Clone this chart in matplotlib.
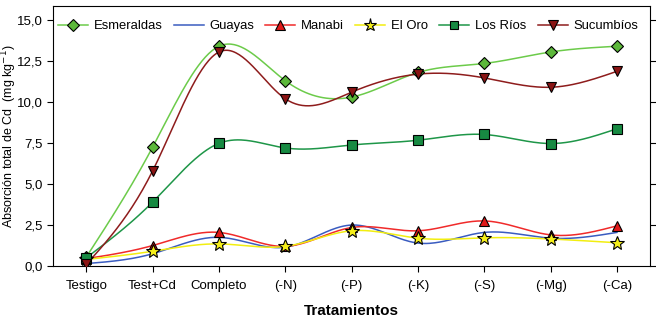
import matplotlib
matplotlib.use("Agg")
from matplotlib import pyplot as plt
from matplotlib.ticker import FuncFormatter
import numpy as np

plt.rcParams['font.family'] = ['Liberation Sans', 'DejaVu Sans']

tratamientos = ['Testigo', 'Test+Cd', 'Completo', '(-N)', '(-P)', '(-K)', '(-S)', '(-Mg)', '(-Ca)']

esmeraldas = [0.55, 7.25, 13.4, 11.3, 10.3, 11.8, 12.35, 13.05, 13.4]
guayas = [0.15, 0.75, 1.75, 1.15, 2.5, 1.4, 2.05, 1.7, 2.05]
manabi = [0.45, 1.25, 2.05, 1.2, 2.35, 2.15, 2.75, 1.9, 2.45]
el_oro = [0.4, 0.9, 1.35, 1.2, 2.15, 1.7, 1.72, 1.65, 1.42]
los_rios = [0.5, 3.9, 7.48, 7.2, 7.38, 7.67, 8.02, 7.47, 8.37]
sucumbios = [0.1, 5.8, 13.05, 10.2, 10.6, 11.7, 11.47, 10.9, 11.87]


def spline(x, y, n=40):
    # natural cubic spline, as the smoothed lines in the original
    x = np.asarray(x, float)
    y = np.asarray(y, float)
    k = len(x)
    h = np.diff(x)
    A = np.zeros((k, k))
    b = np.zeros(k)
    A[0, 0] = A[-1, -1] = 1
    for i in range(1, k - 1):
        A[i, i - 1] = h[i - 1]
        A[i, i] = 2 * (h[i - 1] + h[i])
        A[i, i + 1] = h[i]
        b[i] = 6 * ((y[i + 1] - y[i]) / h[i] - (y[i] - y[i - 1]) / h[i - 1])
    M = np.linalg.solve(A, b)
    xs, ys = [], []
    for i in range(k - 1):
        t = np.linspace(x[i], x[i + 1], n)
        a = x[i + 1] - t
        c = t - x[i]
        s = (M[i] * a ** 3 + M[i + 1] * c ** 3) / (6 * h[i]) \
            + (y[i] / h[i] - M[i] * h[i] / 6) * a \
            + (y[i + 1] / h[i] - M[i + 1] * h[i] / 6) * c
        xs.extend(t)
        ys.extend(s)
    return np.array(xs), np.array(ys)


series = [
    ('Esmeraldas', esmeraldas, '#6ccb4a', 'D', '#5cb83a', 6.5),
    ('Guayas', guayas, '#3a5cc0', None, None, 0),
    ('Manabi', manabi, '#f02a2a', '^', '#e01818', 7.5),
    ('El Oro', el_oro, '#f2ee10', '*', '#f5ef1a', 10.5),
    ('Los Ríos', los_rios, '#1e9648', 's', '#178a42', 6.5),
    ('Sucumbíos', sucumbios, '#8e1c1c', 'v', '#8a1414', 7.5),
]

fig = plt.figure(figsize=(6.56, 3.19), dpi=100)
ax = fig.add_axes([0.081, 0.166, 0.910, 0.815])

x = np.arange(len(tratamientos))
for name, vals, col, mk, fc, ms in series:
    xs, ys = spline(x, vals)
    ax.plot(xs, ys, color=col, linewidth=1.1, zorder=2)
    ax.plot(x, vals, linestyle='none', marker=mk, markersize=ms,
            markerfacecolor=fc, markeredgecolor='black', markeredgewidth=0.8, zorder=3)
    ax.plot([], [], color=col, linewidth=1.1, marker=mk, markersize=ms * 0.9,
            markerfacecolor=fc, markeredgecolor='black', markeredgewidth=0.8, label=name)

ax.set_xlim(-0.5, 8.5)
ax.set_ylim(0, 15.85)
ax.set_xticks(x)
ax.set_xticklabels(tratamientos, fontsize=9.5)
ax.set_yticks(np.arange(0, 15.1, 2.5))
ax.yaxis.set_major_formatter(FuncFormatter(lambda v, p: '{:.1f}'.format(v).replace('.', ',')))
ax.tick_params(axis='y', labelsize=9.5, direction='out', length=4)
ax.tick_params(axis='x', direction='out', length=4, pad=6)
ax.tick_params(axis='y', right=True, which='both')
ax.set_xlabel('Tratamientos', fontsize=11, fontweight='bold', labelpad=9)
ax.set_ylabel('Absorción total de Cd  (mg kg$^{-1}$)', fontsize=9)
ax.yaxis.set_label_coords(-0.058, 0.5)

ax.legend(loc='center', ncol=6, frameon=False, fontsize=9.4,
          handlelength=2.3, handletextpad=0.45, columnspacing=0.85,
          bbox_to_anchor=(0.494, 0.923))

fig.savefig('out.png', dpi=100)
